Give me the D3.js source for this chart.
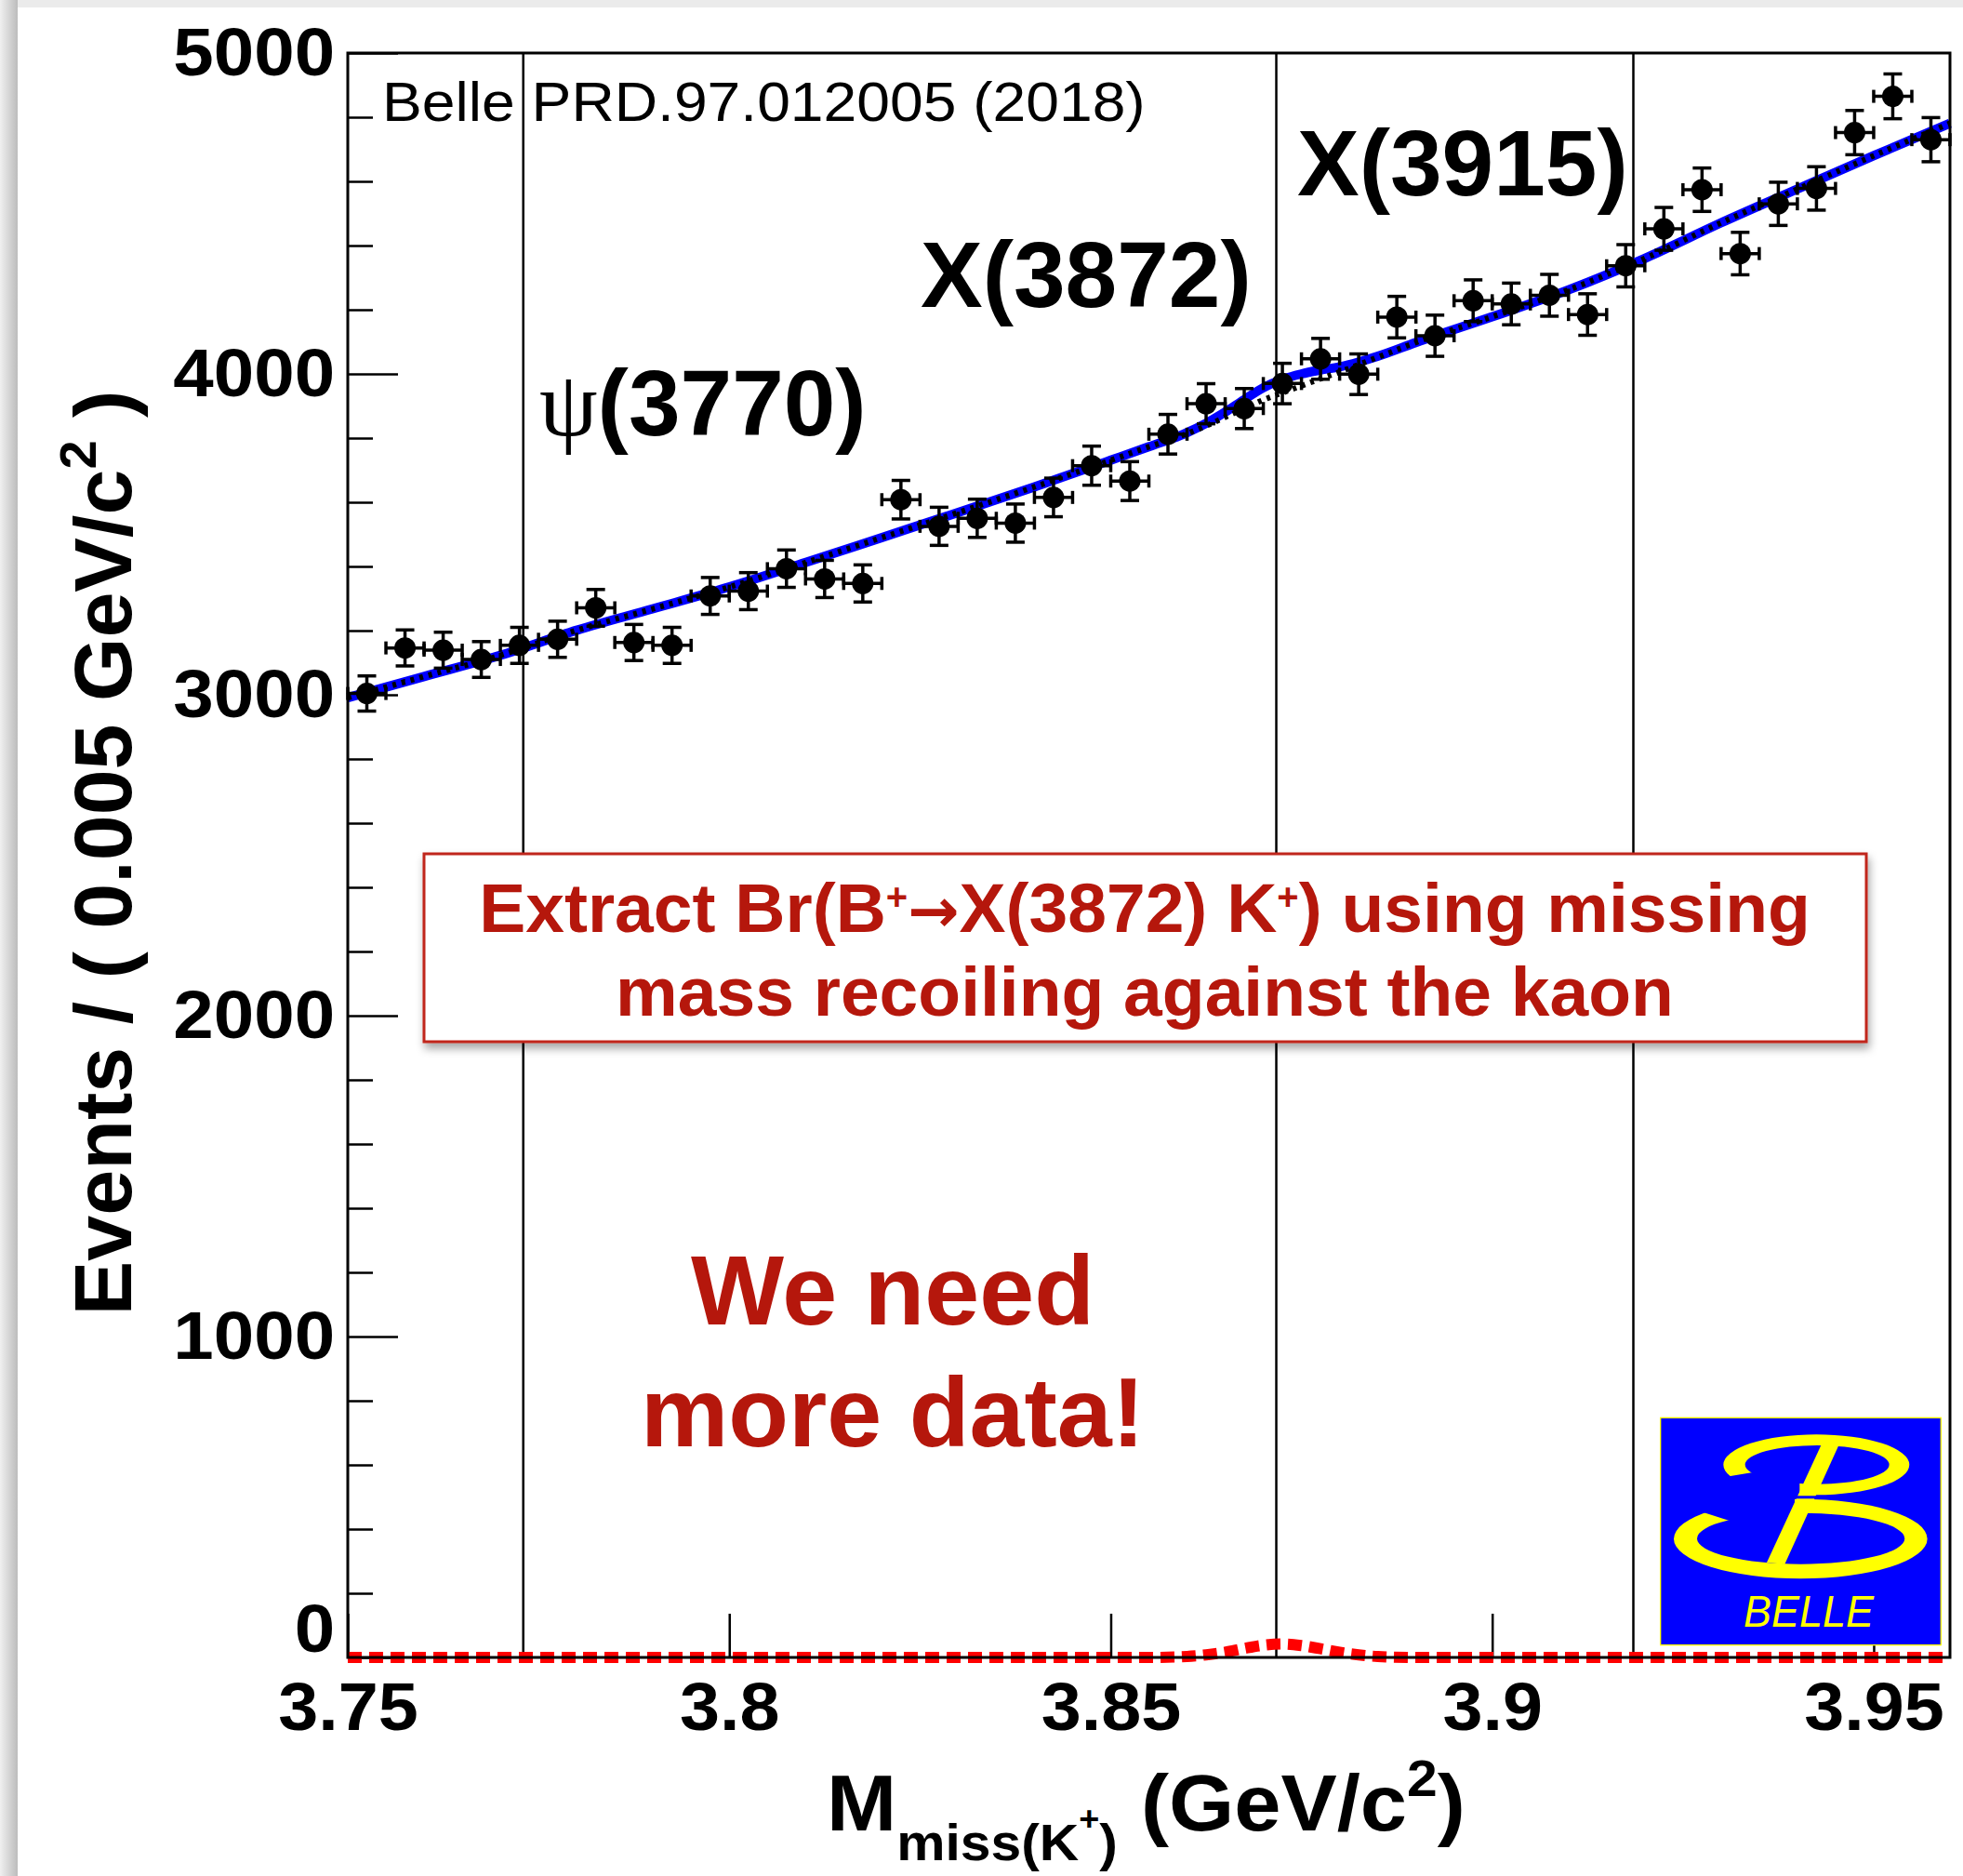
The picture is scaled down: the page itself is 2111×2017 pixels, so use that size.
<!DOCTYPE html>
<html>
<head>
<meta charset="utf-8">
<script src="https://cdn.jsdelivr.net/npm/d3@7"></script>
<style>
html, body { margin: 0; padding: 0; background: #fff; }
svg { display: block; font-family: "Liberation Sans", Arial, Helvetica, sans-serif; }
text { white-space: pre; }
</style>
</head>
<body>
<script>
// bin centres (0.005 GeV bins) and counts
const massCenters = [3.7525, 3.7575, 3.7625, 3.7675, 3.7725, 3.7775, 3.7825, 3.7875, 3.7925, 3.7975,
    3.8025, 3.8075, 3.8125, 3.8175, 3.8225, 3.8275, 3.8325, 3.8375, 3.8425, 3.8475,
    3.8525, 3.8575, 3.8625, 3.8675, 3.8725, 3.8775, 3.8825, 3.8875, 3.8925, 3.8975,
    3.9025, 3.9075, 3.9125, 3.9175, 3.9225, 3.9275, 3.9325, 3.9375, 3.9425, 3.9475,
    3.9525, 3.9575];
const counts = [3004, 3146, 3139, 3110, 3154, 3173, 3271, 3163, 3154, 3308,
    3323, 3393, 3361, 3347, 3608, 3525, 3550, 3535, 3615, 3714,
    3666, 3812, 3907, 3892, 3970, 4047, 3999, 4177, 4119, 4228,
    4218, 4245, 4185, 4337, 4452, 4574, 4375, 4530, 4578, 4752,
    4865, 4730];
const binWidth = 0.005;

// fit curves
const fitMass = [3.75, 3.76, 3.77, 3.78, 3.79, 3.80, 3.81, 3.82, 3.83, 3.84, 3.85, 3.855,
    3.86, 3.8625, 3.865, 3.8675, 3.87, 3.8725, 3.875, 3.8775, 3.88, 3.8825, 3.885, 3.89,
    3.90, 3.91, 3.92, 3.93, 3.94, 3.95, 3.96];
const bkgFit = [2991, 3057, 3123, 3201, 3268, 3336, 3412, 3490, 3568, 3648, 3731, 3773,
    3814, 3838, 3865, 3892, 3919, 3941, 3963, 3985, 4006, 4029, 4052, 4098,
    4178, 4262, 4360, 4471, 4576, 4680, 4781];
const totalFit = [2991, 3057, 3123, 3201, 3268, 3336, 3412, 3490, 3568, 3648, 3731, 3773,
    3817, 3846, 3881, 3920, 3957, 3983, 4000, 4012, 4022, 4037, 4055, 4098,
    4178, 4262, 4360, 4471, 4576, 4680, 4781];
const sigFit = [0, 0, 0, 0, 0, 0, 0, 0, 0, 0, 0, 0,
    3, 8, 16, 28, 38, 42, 37, 27, 16, 8, 3, 0,
    0, 0, 0, 0, 0, 0, 0];

const yTicks = [0, 1000, 2000, 3000, 4000, 5000];
const yMinorStep = 200;
const xTicks = [3.75, 3.8, 3.85, 3.9, 3.95];
const xTickLabels = ['3.75', '3.8', '3.85', '3.9', '3.95'];
const resonanceMass = [3.773, 3.8717, 3.9185];

const W = 2111, H = 2017;
const frame = { left: 374, right: 2097, top: 57, bottom: 1782 };
const darkRed = '#b5170c';

const svg = d3.select('body').append('svg')
    .attr('width', W)
    .attr('height', H);

const defs = svg.append('defs');
const shade = defs.append('linearGradient').attr('id', 'leftShade')
    .attr('x1', 0).attr('x2', 1).attr('y1', 0).attr('y2', 0);
shade.append('stop').attr('offset', '0%').attr('stop-color', '#f0f0f0');
shade.append('stop').attr('offset', '100%').attr('stop-color', '#bcbcbc');
defs.append('filter').attr('id', 'boxShadow')
    .attr('x', '-5%').attr('y', '-20%').attr('width', '110%').attr('height', '150%')
    .append('feDropShadow')
        .attr('dx', 2).attr('dy', 6).attr('stdDeviation', 5)
        .attr('flood-color', '#000').attr('flood-opacity', 0.35);

// slide card background
svg.append('rect').attr('width', W).attr('height', H).attr('fill', '#ebebeb');
svg.append('rect').attr('x', 0).attr('y', 0).attr('width', 19).attr('height', H).attr('fill', 'url(#leftShade)');
svg.append('rect').attr('x', 19).attr('y', 8).attr('width', W - 19).attr('height', H - 8).attr('fill', '#fff');

const x = d3.scaleLinear().domain([3.75, 3.96]).range([frame.left, frame.right]);
const y = d3.scaleLinear().domain([0, 5000]).range([frame.bottom, frame.top]);

// y axis (ticks point inward)
const yMinor = d3.range(0, 5001, yMinorStep).filter(v => !yTicks.includes(v));
svg.append('g')
    .attr('transform', `translate(${frame.left},0)`)
    .call(d3.axisLeft(y).tickValues(yMinor).tickSize(-27).tickFormat(''))
    .call(g => g.select('.domain').remove())
    .call(g => g.selectAll('line').attr('stroke', '#000').attr('stroke-width', 2.5));

const yAxis = svg.append('g')
    .attr('transform', `translate(${frame.left},0)`)
    .call(d3.axisLeft(y).tickValues(yTicks).tickSize(-54).tickPadding(13).tickFormat(d3.format('d')))
    .call(g => g.select('.domain').remove());
yAxis.selectAll('line').attr('stroke', '#000').attr('stroke-width', 2.5);
yAxis.selectAll('text')
    .attr('fill', '#000')
    .attr('font-family', '"Liberation Sans", Arial, sans-serif')
    .attr('font-weight', 'bold')
    .attr('font-size', 73)
    .attr('transform', d => d === 0 ? 'translate(0,-30) scale(1.07,1)' : 'scale(1.07,1)');

// x axis
const xAxis = svg.append('g')
    .attr('transform', `translate(0,${frame.bottom})`)
    .call(d3.axisBottom(x).tickValues(xTicks).tickSize(-47).tickPadding(26)
        .tickFormat((d, i) => xTickLabels[i]))
    .call(g => g.select('.domain').remove());
xAxis.selectAll('line').attr('stroke', '#000').attr('stroke-width', 2.5);
xAxis.selectAll('text')
    .attr('fill', '#000')
    .attr('font-family', '"Liberation Sans", Arial, sans-serif')
    .attr('font-weight', 'bold')
    .attr('font-size', 73)
    .attr('transform', 'scale(1.06,1)');

// resonance markers
svg.append('g')
    .selectAll('line')
    .data(resonanceMass)
    .enter()
    .append('line')
        .attr('x1', d => x(d)).attr('x2', d => x(d))
        .attr('y1', frame.top).attr('y2', frame.bottom)
        .attr('stroke', '#000')
        .attr('stroke-width', 2.5);

// fit curves
const fitLine = vals => d3.line()
    .x((d, i) => x(fitMass[i]))
    .y((d, i) => y(vals[i]))
    .curve(d3.curveMonotoneX)(fitMass);

svg.append('path')
    .attr('d', fitLine(totalFit))
    .attr('fill', 'none')
    .attr('stroke', '#0000ff')
    .attr('stroke-width', 10);
svg.append('path')
    .attr('d', fitLine(bkgFit))
    .attr('fill', 'none')
    .attr('stroke', '#000')
    .attr('stroke-width', 6)
    .attr('stroke-dasharray', '4,6');
svg.append('path')
    .attr('d', fitLine(sigFit))
    .attr('fill', 'none')
    .attr('stroke', '#ff0000')
    .attr('stroke-width', 12)
    .attr('stroke-dasharray', '15,8');

// frame
svg.append('rect')
    .attr('x', frame.left).attr('y', frame.top)
    .attr('width', frame.right - frame.left)
    .attr('height', frame.bottom - frame.top)
    .attr('fill', 'none')
    .attr('stroke', '#000')
    .attr('stroke-width', 3);

// data points with stat errors
const pts = svg.append('g')
    .selectAll('g')
    .data(massCenters.map((m, i) => ({ m: m, n: counts[i], e: Math.sqrt(counts[i]) })))
    .enter()
    .append('g')
    .attr('stroke', '#000')
    .attr('stroke-width', 3.5);
pts.append('line')
    .attr('x1', d => x(d.m)).attr('x2', d => x(d.m))
    .attr('y1', d => y(d.n - d.e)).attr('y2', d => y(d.n + d.e));
pts.append('line')
    .attr('x1', d => x(d.m - binWidth / 2)).attr('x2', d => x(d.m + binWidth / 2))
    .attr('y1', d => y(d.n)).attr('y2', d => y(d.n));
[-1, 1].forEach(function (s) {
    pts.append('line')
        .attr('x1', d => x(d.m) - 10).attr('x2', d => x(d.m) + 10)
        .attr('y1', d => y(d.n + s * d.e)).attr('y2', d => y(d.n + s * d.e));
    pts.append('line')
        .attr('x1', d => x(d.m + s * binWidth / 2)).attr('x2', d => x(d.m + s * binWidth / 2))
        .attr('y1', d => y(d.n) - 7).attr('y2', d => y(d.n) + 7);
});
pts.append('circle')
    .attr('cx', d => x(d.m))
    .attr('cy', d => y(d.n))
    .attr('r', 11.5)
    .attr('stroke', 'none')
    .attr('fill', '#000');

// axis titles
const xt = svg.append('text')
    .attr('transform', 'translate(889,1968) scale(1.05,1)')
    .attr('font-weight', 'bold')
    .attr('font-size', 86);
xt.append('tspan').text('M');
xt.append('tspan').attr('font-size', 56).attr('dy', 32).text('miss(K');
xt.append('tspan').attr('font-size', 36).attr('dy', -32).text('+');
xt.append('tspan').attr('font-size', 56).attr('dy', 32).text(')');
xt.append('tspan').attr('dy', -32).text(' (GeV/c');
xt.append('tspan').attr('font-size', 56).attr('dy', -37).text('2');
xt.append('tspan').attr('dy', 37).text(')');

const yt = svg.append('text')
    .attr('transform', 'translate(141,917) rotate(-90)')
    .attr('text-anchor', 'middle')
    .attr('font-weight', 'bold')
    .attr('font-size', 88);
yt.append('tspan').text('Events / ( 0.005 GeV/c');
yt.append('tspan').attr('font-size', 56).attr('dy', -38).text('2');
yt.append('tspan').attr('dy', 38).text(' )');

// labels on the plot
svg.append('text')
    .attr('transform', 'translate(411,130) scale(1.07,1)')
    .attr('font-size', 60)
    .text('Belle PRD.97.012005 (2018)');

const psi = svg.append('text')
    .attr('x', 580).attr('y', 468)
    .attr('font-size', 100);
psi.append('tspan').attr('font-family', '"Liberation Serif", "DejaVu Serif", serif').text('ψ');
psi.append('tspan').attr('font-weight', 'bold').text('(3770)');

svg.append('text').attr('x', 990).attr('y', 330)
    .attr('font-size', 100).attr('font-weight', 'bold').text('X(3872)');
svg.append('text').attr('x', 1395).attr('y', 210)
    .attr('font-size', 100).attr('font-weight', 'bold').text('X(3915)');

// red note box
svg.append('rect')
    .attr('x', 456).attr('y', 918)
    .attr('width', 1551).attr('height', 202)
    .attr('fill', '#fff')
    .attr('stroke', '#c0271a')
    .attr('stroke-width', 3)
    .attr('filter', 'url(#boxShadow)');
const note1 = svg.append('text')
    .attr('x', 1231).attr('y', 1002)
    .attr('text-anchor', 'middle')
    .attr('font-size', 75).attr('font-weight', 'bold')
    .attr('fill', darkRed);
note1.append('tspan').text('Extract Br(B');
note1.append('tspan').attr('font-size', 40).attr('dy', -24).text('+');
note1.append('tspan').attr('dy', 24).attr('font-family', '"DejaVu Sans", sans-serif').attr('font-size', 66).text('→');
note1.append('tspan').text('X(3872) K');
note1.append('tspan').attr('font-size', 40).attr('dy', -24).text('+');
note1.append('tspan').attr('dy', 24).text(') using missing');
svg.append('text')
    .attr('x', 1231).attr('y', 1092)
    .attr('text-anchor', 'middle')
    .attr('font-size', 75).attr('font-weight', 'bold')
    .attr('fill', darkRed)
    .text('mass recoiling against the kaon');

['We need', 'more data!'].forEach(function (line, i) {
    svg.append('text')
        .attr('x', 960).attr('y', i == 0 ? 1424 : 1555)
        .attr('text-anchor', 'middle')
        .attr('font-size', 106).attr('font-weight', 'bold')
        .attr('fill', darkRed)
        .text(line);
});

// Belle logo
function ellipsePath(cx, cy, rx, ry) {
    return `M${cx - rx},${cy}a${rx},${ry} 0 1,0 ${2 * rx},0a${rx},${ry} 0 1,0 ${-2 * rx},0Z`;
}
const logo = svg.append('g').attr('transform', 'translate(1700,1500) scale(0.3333)');
logo.append('rect')
    .attr('x', 257).attr('y', 73).attr('width', 905).attr('height', 733)
    .attr('fill', '#0000ff').attr('stroke', '#ffff00').attr('stroke-width', 4);
logo.append('path')
    .attr('d', ellipsePath(760, 224.5, 300, 97.5) + ellipsePath(762.5, 224.5, 232.5, 62.5))
    .attr('fill', '#ffff00').attr('fill-rule', 'evenodd');
logo.append('polygon')
    .attr('points', '465,264 555,249 706,250 706,328 465,328')
    .attr('fill', '#0000ff');
logo.append('path')
    .attr('d', ellipsePath(709, 463.5, 409, 128.5) + ellipsePath(710, 462.5, 335, 82.5))
    .attr('fill', '#ffff00').attr('fill-rule', 'evenodd');
logo.append('polygon')
    .attr('points', '395,378 482,406 690,406 690,320 395,320')
    .attr('fill', '#0000ff');
logo.append('polygon')
    .attr('points', '775,162 832,162 658,545 600,540')
    .attr('fill', '#ffff00');
logo.append('line')
    .attr('x1', 680).attr('x2', 790).attr('y1', 329).attr('y2', 329)
    .attr('stroke', '#0000ff').attr('stroke-width', 9);
logo.append('text')
    .attr('x', 525).attr('y', 748)
    .attr('font-size', 147).attr('font-style', 'italic')
    .attr('textLength', 420).attr('lengthAdjust', 'spacingAndGlyphs')
    .attr('fill', '#ffff00')
    .text('BELLE');
</script>
</body>
</html>
